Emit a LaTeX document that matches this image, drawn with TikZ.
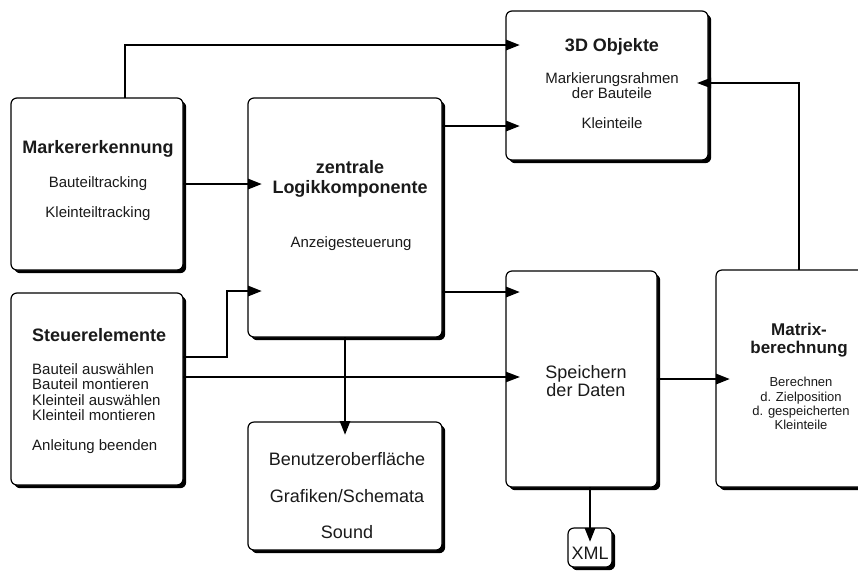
\documentclass[tikz,border=0pt]{standalone}
\usepackage{fontspec}
\setmainfont{Liberation Sans}
\usetikzlibrary{arrows.meta,calc,shadows}
\definecolor{ink}{HTML}{1A1A1A}
\begin{document}
\begin{tikzpicture}[x=1pt,y=-1pt,
  box/.style={draw=black, line width=1.2pt, rounded corners=6pt, fill=white,
    inner sep=0pt, outer sep=0pt,
    drop shadow={shadow xshift=3.2pt, shadow yshift=-3.2pt, opacity=1, fill=black}},
  flow/.style={line width=2.8pt, -{Triangle[length=14pt,width=10pt]}},
  flowthin/.style={line width=2pt, -{Triangle[length=14pt,width=10pt]}},
  title/.style={font=\bfseries\fontsize{18}{20}\selectfont, text=ink, inner sep=0pt, anchor=base, align=center},
  body/.style={text=ink, inner sep=0pt, anchor=base, align=center}]
\useasboundingbox (0,0) rectangle (858,571);

% blocks
\node[box, minimum width=172pt, minimum height=172pt] (mark)   at (97,184)    {};
\node[box, minimum width=172pt, minimum height=192pt] (steuer) at (97,389)    {};
\node[box, minimum width=194pt, minimum height=239pt] (logik)  at (345,217.5) {};
\node[box, minimum width=202pt, minimum height=149pt] (obj3d)  at (607,85.5)  {};
\node[box, minimum width=151pt, minimum height=216pt] (speich) at (581.5,379) {};
\node[box, minimum width=44pt,  minimum height=39pt]  (xml)    at (590,547.5) {};
\node[box, minimum width=166pt, minimum height=217pt] (matrix) at (799,378.5) {};
\node[box, minimum width=194pt, minimum height=128pt] (ui)     at (345,486)   {};

% block texts (multi-line texts are placed by the baseline of their last line)
\node[title] (mark-t) at (98,153.5) {Markererkennung};
\node[body, font=\fontsize{15}{30}\selectfont] (mark-b) at (98,217.4) {Bauteiltracking\\Kleinteiltracking};

\node[title, anchor=base west] (steuer-t) at (32,341.5) {Steuerelemente};
\node[body, anchor=base west, align=left, font=\fontsize{15}{15.3}\selectfont] (steuer-b) at (32,450.4)
  {Bauteil auswählen\\Bauteil montieren\\Kleinteil auswählen\\Kleinteil montieren\\[14.7pt]Anleitung beenden};

\node[title] (logik-t) at (350,193.5) {zentrale\\Logikkomponente};
\node[body, font=\fontsize{15}{18}\selectfont] (logik-b) at (351,247.4) {Anzeigesteuerung};

\node[title] (obj3d-t) at (612,51.5) {3D Objekte};
\node[body, font=\fontsize{15}{15}\selectfont] (obj3d-b) at (612,128.4) {Markierungsrahmen\\der Bauteile\\[15pt]Kleinteile};

\node[body, font=\fontsize{18}{18}\selectfont] (speich-b) at (586,396.5) {Speichern\\der Daten};
\node[body, font=\fontsize{18}{20}\selectfont] (xml-b) at (590,559.5) {XML};

\node[title, font=\bfseries\fontsize{17}{18}\selectfont] (matrix-t) at (799,353) {Matrix-\\berechnung};
\node[body, font=\fontsize{13}{14.3}\selectfont] (matrix-b) at (801,429.7) {Berechnen\\d. Zielposition\\d. gespeicherten\\Kleinteile};

\node[body, font=\fontsize{18}{36.5}\selectfont] (ui-b) at (347,538.5) {Benutzeroberfläche\\Grafiken/Schemata\\Sound};

% helper points on the block borders
\coordinate (s1) at ($(steuer.east)+(0,-32)$);
\coordinate (s2) at ($(steuer.east)+(0,-12)$);
\coordinate (l2) at ($(logik.north east)+(0,28)$);
\coordinate (l3) at ($(logik.south east)+(0,-45)$);
\coordinate (lin) at ($(logik.south west)+(14,-46)$);

% connectors
\draw[flow] ($(mark.north)+(28,0)$) |- ($(obj3d.north west)+(14,34)$);
\draw[flow] (mark.east) -- ($(logik.west |- mark.east)+(14,0)$);
\draw[flow] (s1) -| ++(44,-66) -- (lin);
\draw[flowthin] (s2) -- ($(speich.west |- s2)+(14,0)$);
\draw[flow] (l2) -- ($(obj3d.west |- l2)+(14,0)$);
\draw[flow] (l3) -- ($(speich.west |- l3)+(14,0)$);
\draw[flow] (logik.south) -- ($(ui.north)+(0,13)$);
\draw[flow] (speich.east) -- ($(matrix.west |- speich.east)+(14,0)$);
\draw[flow] (xml.north |- speich.south) -- ($(xml.north)+(0,14)$);
\draw[flowthin] (matrix.north) |- ($(obj3d.east)+(-11,-2.5)$);
\end{tikzpicture}
\end{document}
